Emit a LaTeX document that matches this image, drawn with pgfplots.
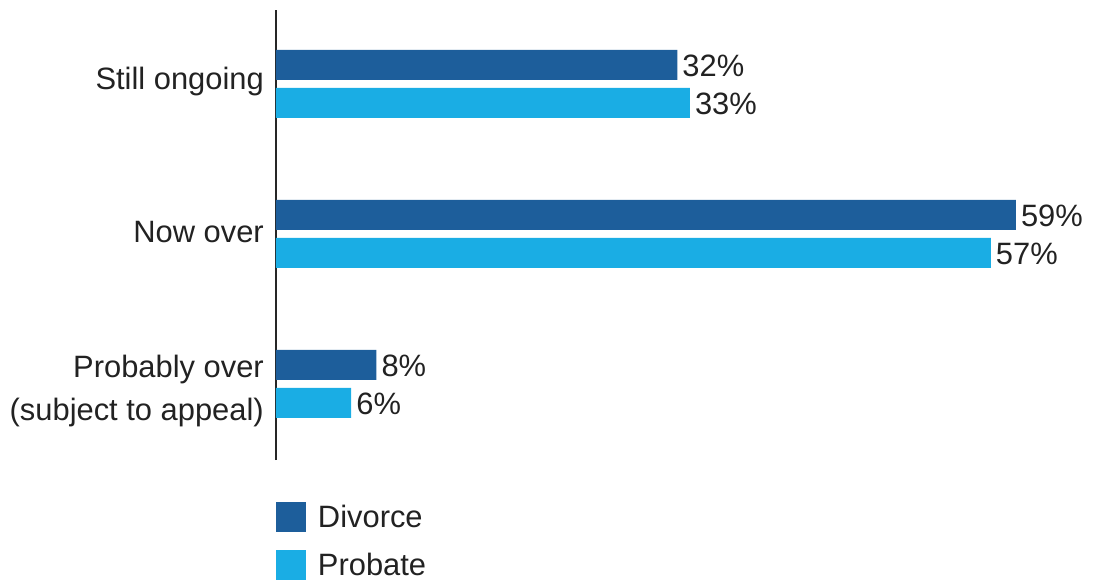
\documentclass[border=0pt]{standalone}
\usepackage{pgfplots}
\pgfplotsset{compat=1.18}
\usepackage{fontspec}
\setmainfont{Liberation Sans}
\definecolor{divc}{HTML}{1D5E9B}
\definecolor{probc}{HTML}{1AADE4}
\definecolor{txt}{HTML}{222222}
\begin{document}
\begin{tikzpicture}
\begin{axis}[
  at={(0,0)}, anchor=south west,
  scale only axis,
  width=752.4bp, height=450bp,
  xmin=0, xmax=60,
  ymin=-0.507, ymax=2.493,
  enlargelimits=false,
  xbar, bar width=30bp,
  axis x line=none,
  axis y line*=left,
  y axis line style={line width=1.5bp, color=black!85},
  ytick={1,2},
  yticklabels={{Now over},{Still ongoing}},
  extra y ticks={0},
  extra y tick labels={{Probably over\\(subject to appeal)}},
  extra y tick style={yticklabel style={yshift=-9bp}},
  major tick length=0pt,
  yticklabel style={align=right, inner sep=0pt, xshift=-12bp, yshift=2bp, text=txt,
     font=\fontsize{31}{43}\selectfont},
  /pgf/number format/assume math mode=true,
  nodes near coords={\pgfmathprintnumber{\pgfplotspointmeta}\%},
  point meta=x,
  nodes near coords style={font=\fontsize{31}{37}\selectfont, text=txt, inner sep=5bp, anchor=west, yshift=-1bp},
  legend style={at={(0,0)}, anchor=north west, yshift=-42bp, draw=none, fill=none,
     inner sep=0pt, outer sep=0pt, row sep=18bp,
     font=\fontsize{31}{37}\selectfont, text=txt,
     nodes={inner sep=0pt, anchor=west},
     /tikz/every odd column/.append style={column sep=12bp}},
  legend cell align=left,
  legend image code/.code={\fill[#1, draw=none] (0bp,-15bp) rectangle (30bp,15bp);},
]
\addplot[fill=divc, draw=none, bar shift=19bp] coordinates {(32,2) (59,1) (8,0)};
\addlegendentry{Divorce}
\addplot[fill=probc, draw=none, bar shift=-19bp] coordinates {(33,2) (57,1) (6,0)};
\addlegendentry{Probate}
\end{axis}
\path (-276bp,-121bp) rectangle (817bp,460bp);
\end{tikzpicture}
\end{document}
